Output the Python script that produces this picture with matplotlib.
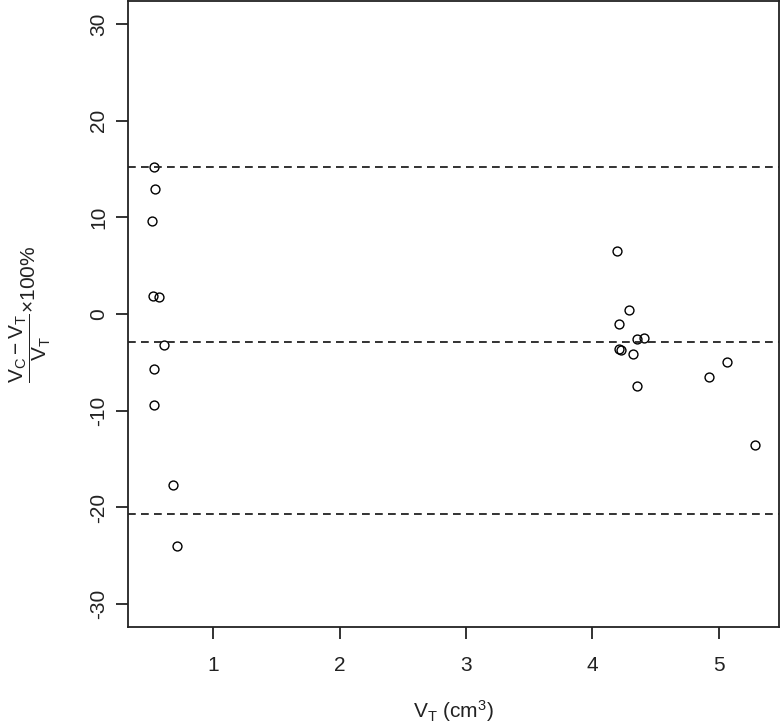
import numpy as np
import matplotlib.pyplot as plt

plt.rcParams['font.family'] = ['Liberation Sans', 'DejaVu Sans']
plt.rcParams['mathtext.fontset'] = 'custom'
plt.rcParams['mathtext.rm'] = 'Liberation Sans'
plt.rcParams['mathtext.it'] = 'Liberation Sans:italic'
plt.rcParams['mathtext.bf'] = 'Liberation Sans:bold'

# true volume V_T (cm^3) and relative difference (%)
vt = [0.528, 0.538, 0.517, 0.525, 0.573, 0.607, 0.528, 0.528, 0.678, 0.710,
      4.196, 4.293, 4.214, 4.354, 4.407, 4.212, 4.230, 4.325, 4.354, 4.926, 5.066, 5.285]
rel_diff = [15.19, 12.90, 9.63, 1.91, 1.76, -3.21, -5.70, -9.38, -17.64, -23.96,
            6.49, 0.46, -0.99, -2.55, -2.44, -3.58, -3.76, -4.14, -7.39, -6.48, -4.90, -13.57]

# mean and limits of agreement
ref_lines = [15.19, -2.83, -20.68]

x_ticks = [1, 2, 3, 4, 5]
y_ticks = [-30, -20, -10, 0, 10, 20, 30]

fig = plt.figure(figsize=(7.8, 7.25), dpi=100)
ax = fig.add_axes([128.3 / 780, 1 - 627.3 / 725, 650.4 / 780, 626.3 / 725])

ax.plot(vt, rel_diff, 'o', mfc='none', mec='black', ms=6.4, mew=1.0)
for y in ref_lines:
    ax.axhline(y, color='#222222', lw=1.3, dashes=(4.3, 2.9))

# R-style 4% axis extension
x = np.array(vt)
pad = (x.max() - x.min()) * 0.04
ax.set_xlim(x.min() - pad, x.max() + pad)
ax.set_ylim(-30 - 2.4, 30 + 2.4)

ax.set_xticks(x_ticks)
ax.set_yticks(y_ticks)
ax.set_yticklabels([str(t) for t in y_ticks], rotation=90, va='center')
ax.tick_params(direction='out', length=8.6, width=1.3, labelsize=15, colors='#222222')
ax.tick_params(axis='x', pad=12)
ax.tick_params(axis='y', pad=6)
for s in ax.spines.values():
    s.set_linewidth(1.3)
    s.set_color('#222222')

ax.set_xlabel(r'V$_\mathrm{T}$ (cm$^3$)', fontsize=15, color='#222222')
ax.xaxis.set_label_coords(0.5, -0.113)
ax.set_ylabel(r'$\dfrac{\mathrm{V_C - V_T}}{\mathrm{V_T}}\mathrm{\times 100\%}$', fontsize=15, color='#222222')
ax.yaxis.set_label_coords(-0.116, 0.5)

fig.savefig('out.png', dpi=100)
